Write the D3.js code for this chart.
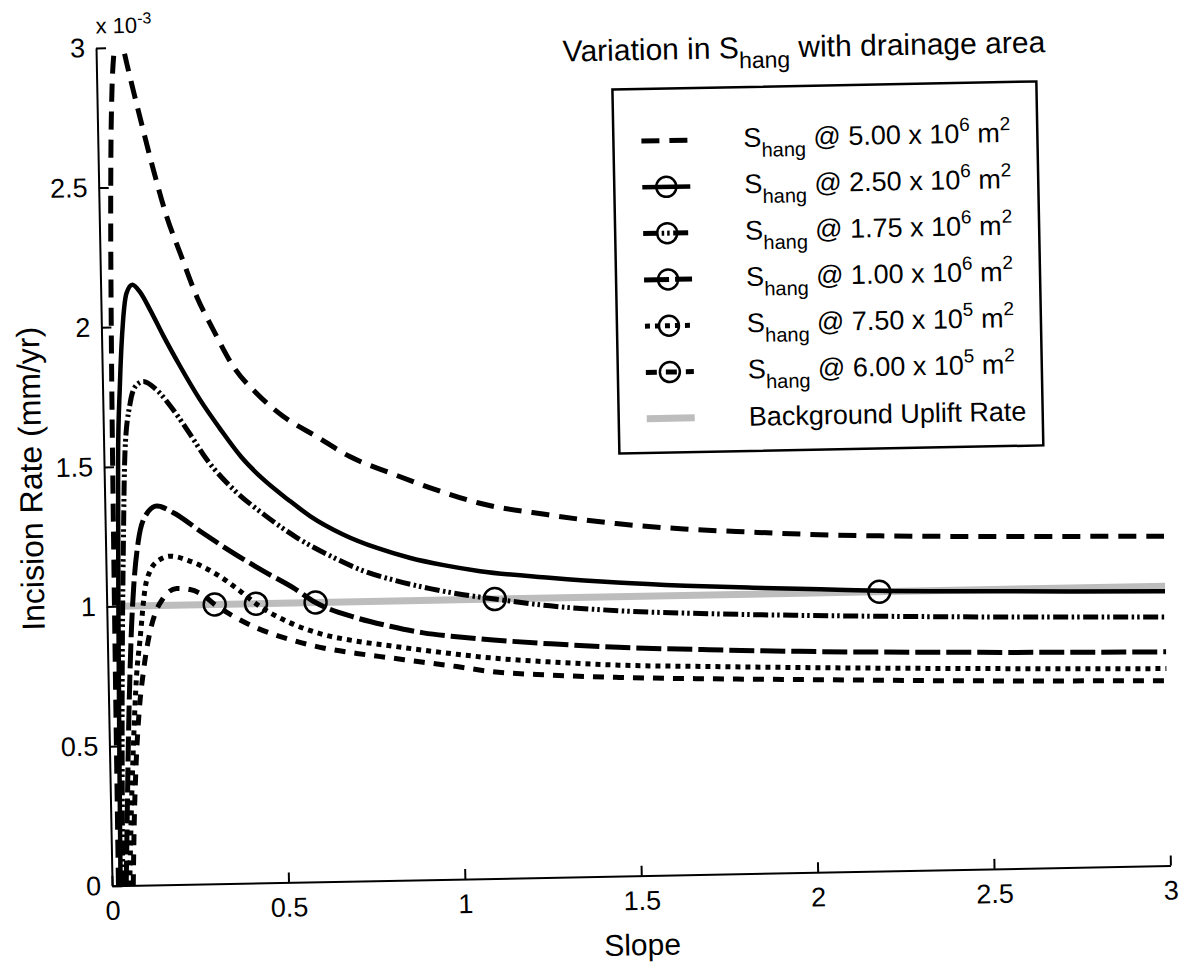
<!DOCTYPE html>
<html>
<head>
<meta charset="utf-8">
<script src="https://cdnjs.cloudflare.com/ajax/libs/d3/7.8.5/d3.min.js"></script>
<style>
    body { margin: 0; background: #fff; }
    svg text { font-family: "Liberation Sans", Arial, Helvetica, sans-serif; fill: #000; white-space: pre; }
</style>
</head>
<body>
<svg id="chart" width="1188" height="971"></svg>
<script>

// Tick values for both axes
var slopeTicks = [0, 0.5, 1, 1.5, 2, 2.5, 3];
var rateTicks = [0, 0.5, 1, 1.5, 2, 2.5, 3];

// Drainage area labels for the legend (mantissa and power of ten)
var areaMantissa = ["5.00", "2.50", "1.75", "1.00", "7.50", "6.00"];
var areaPower = ["6", "6", "6", "6", "5", "5"];

// Incision rate (x 10^-3 mm/yr) against slope
var rateArea500e4 = [[0.018, 0], [0.021, 0.8], [0.025, 1.6], [0.03, 2.2], [0.036, 2.6], [0.043, 2.85],
    [0.052, 3.0], [0.064, 3.09], [0.077, 3.0], [0.103, 2.847], [0.129, 2.704], [0.156, 2.56],
    [0.191, 2.392], [0.227, 2.261], [0.272, 2.103], [0.317, 1.983], [0.372, 1.85], [0.436, 1.753],
    [0.511, 1.668], [0.604, 1.594], [0.697, 1.52], [0.81, 1.459], [0.94, 1.395], [1.06, 1.345],
    [1.256, 1.298], [1.448, 1.262], [1.64, 1.238], [1.832, 1.222], [2.024, 1.208], [2.216, 1.199],
    [2.472, 1.191], [2.728, 1.185], [3.0, 1.179]];

var rateArea250e4 = [[0.024, 0], [0.028, 0.5], [0.033, 1.0], [0.04, 1.52], [0.049, 1.785], [0.062, 2.025],
    [0.073, 2.12], [0.09, 2.15], [0.111, 2.124], [0.139, 2.059], [0.176, 1.963], [0.221, 1.855],
    [0.275, 1.735], [0.33, 1.63], [0.39, 1.525], [0.45, 1.445], [0.52, 1.37], [0.581, 1.31],
    [0.675, 1.241], [0.769, 1.191], [0.863, 1.153], [0.957, 1.125], [1.06, 1.101], [1.256, 1.073],
    [1.448, 1.051], [1.64, 1.035], [1.832, 1.023], [2.024, 1.013], [2.19, 1.003], [2.472, 0.995],
    [2.728, 0.988], [3.0, 0.982]];

var rateArea175e4 = [[0.03, 0], [0.036, 0.5], [0.043, 0.9], [0.05, 1.2], [0.06, 1.55], [0.077, 1.724],
    [0.096, 1.79], [0.116, 1.803], [0.153, 1.772], [0.199, 1.7], [0.245, 1.612], [0.291, 1.52],
    [0.366, 1.41], [0.449, 1.32], [0.542, 1.234], [0.636, 1.166], [0.729, 1.11], [0.823, 1.072],
    [0.917, 1.042], [1.011, 1.018], [1.1, 1.0], [1.256, 0.972], [1.448, 0.95], [1.704, 0.933],
    [1.96, 0.921], [2.47, 0.903], [3.0, 0.89]];

var rateArea100e4 = [[0.04, 0], [0.048, 0.3], [0.055, 0.55], [0.062, 0.755], [0.069, 0.922], [0.078, 1.077],
    [0.093, 1.232], [0.114, 1.321], [0.147, 1.356], [0.194, 1.331], [0.269, 1.263], [0.353, 1.19],
    [0.446, 1.116], [0.53, 1.054], [0.592, 1.0], [0.708, 0.942], [0.802, 0.91], [0.896, 0.884],
    [0.99, 0.868], [1.085, 0.855], [1.256, 0.836], [1.448, 0.819], [1.704, 0.804], [1.96, 0.792],
    [2.47, 0.776], [3.0, 0.765]];

var rateArea750e3 = [[0.05, 0], [0.058, 0.25], [0.068, 0.5], [0.081, 0.754], [0.092, 0.874], [0.11, 1.065],
    [0.125, 1.125], [0.154, 1.165], [0.182, 1.176], [0.238, 1.157], [0.314, 1.107], [0.38, 1.045],
    [0.423, 1.0], [0.519, 0.929], [0.612, 0.885], [0.706, 0.859], [0.801, 0.84], [0.895, 0.822],
    [0.99, 0.805], [1.084, 0.79], [1.256, 0.771], [1.448, 0.755], [1.704, 0.744], [1.96, 0.734],
    [2.47, 0.718], [3.0, 0.705]];

var rateArea600e3 = [[0.06, 0], [0.066, 0.22], [0.074, 0.42], [0.086, 0.62], [0.101, 0.77], [0.12, 0.9],
    [0.136, 0.969], [0.161, 1.027], [0.199, 1.06], [0.237, 1.055], [0.274, 1.034], [0.306, 1.0],
    [0.358, 0.957], [0.424, 0.913], [0.518, 0.869], [0.611, 0.837], [0.706, 0.815], [0.8, 0.797],
    [0.894, 0.779], [0.989, 0.761], [1.08, 0.742], [1.256, 0.724], [1.448, 0.711], [1.704, 0.7],
    [1.96, 0.691], [2.47, 0.674], [3.0, 0.662]];

// Background uplift rate and the S_hang slopes where each curve meets it
var upliftRate = 1.0;
var upliftSlopes = [0.03, 3.0];
var shangSlopes = [2.19, 1.1, 0.592, 0.423, 0.306];

function drawChart() {

    var left = 104.5, right = 1163,
        top = 38.5, bottom = 876.5;

    var x = d3.scaleLinear().domain([0, 3]).range([left, right]);
    var y = d3.scaleLinear().domain([0, 3]).range([bottom, top]);

    // Line styles, one per drainage area
    var series = [
        {data: rateArea500e4, dash: "18,10", width: 5, marker: false},
        {data: rateArea250e4, dash: null, width: 4.5, marker: true},
        {data: rateArea175e4, dash: "15,3.5,2.5,3,2.5,3.5", width: 5, marker: true},
        {data: rateArea100e4, dash: "25,6", width: 5, marker: true},
        {data: rateArea750e3, dash: "5,5", width: 5, marker: true},
        {data: rateArea600e3, dash: "11,9", width: 5, marker: true}
    ];

    var svg = d3.select("#chart");

    // The scanned figure sits slightly rotated
    var root = svg.append("g").attr("transform", "rotate(-1.1 594 485)");

    svg.append("defs").append("clipPath")
        .attr("id", "plot-clip")
        .append("rect")
        .attr("x", left)
        .attr("y", top)
        .attr("width", right - left)
        .attr("height", bottom - top);

    var plot = root.append("g").attr("clip-path", "url(#plot-clip)");

    var line = d3.line()
        .x(function (d) { return x(d[0]); })
        .y(function (d) { return y(d[1]); })
        .curve(d3.curveMonotoneX);

    // Grey uplift line goes underneath
    plot.append("path")
        .attr("d", line(upliftSlopes.map(function (s) { return [s, upliftRate]; })))
        .attr("fill", "none")
        .attr("stroke", "#bdbdbd")
        .attr("stroke-width", 7);

    series.forEach(function (s) {
        plot.append("path")
            .attr("d", line(s.data))
            .attr("fill", "none")
            .attr("stroke", "#000")
            .attr("stroke-width", s.width)
            .attr("stroke-dasharray", s.dash);
    });

    // Circles at the hanging slope of each curve
    plot.selectAll(".shang")
        .data(shangSlopes)
        .enter().append("circle")
        .attr("class", "shang")
        .attr("cx", function (d) { return x(d); })
        .attr("cy", y(upliftRate))
        .attr("r", 11)
        .attr("fill", "none")
        .attr("stroke", "#000")
        .attr("stroke-width", 2.5);

    // Axes, ticks pointing inward
    var xAxis = root.append("g")
        .attr("transform", "translate(0," + bottom + ")")
        .call(d3.axisBottom(x).tickValues(slopeTicks).tickSizeInner(-10).tickSizeOuter(0)
            .tickPadding(15).tickFormat(function (d) { return String(d); }));

    var yAxis = root.append("g")
        .attr("transform", "translate(" + left + ",0)")
        .call(d3.axisLeft(y).tickValues(rateTicks).tickSizeInner(-10).tickSizeOuter(0)
            .tickPadding(11).tickFormat(function (d) { return String(d); }));

    [xAxis, yAxis].forEach(function (a) {
        a.attr("font-family", null).attr("font-size", 27);
        a.select(".domain").attr("stroke-width", 2);
        a.selectAll(".tick line").attr("stroke-width", 2);
    });

    // Exponent label above the y axis
    var expText = root.append("text")
        .attr("x", left)
        .attr("y", 24)
        .attr("font-size", 22);
    expText.append("tspan").text("x 10");
    expText.append("tspan").attr("font-size", 16).attr("dy", -9).text("-3");

    // Axis titles
    root.append("text")
        .attr("x", (left + right) / 2)
        .attr("y", 956)
        .attr("font-size", 30)
        .attr("text-anchor", "middle")
        .text("Slope");

    root.append("text")
        .attr("transform", "translate(42,468) rotate(-90)")
        .attr("font-size", 32)
        .attr("text-anchor", "middle")
        .text("Incision Rate (mm/yr)");

    // Chart title
    var title = root.append("text")
        .attr("x", 571)
        .attr("y", 61)
        .attr("font-size", 30);
    title.append("tspan").text("Variation in S");
    title.append("tspan").attr("font-size", 23).attr("dy", 10).text("hang");
    title.append("tspan").attr("dy", -10).text(" with drainage area");

    drawLegend(root, series);
}

function drawLegend(root, series) {
    var boxX = 620, boxY = 90, boxW = 424, boxH = 364;
    var sampleX = 648, sampleW = 48, textX = 750;
    var rowY = 142, rowStep = 46.3;

    var legend = root.append("g");

    legend.append("rect")
        .attr("x", boxX)
        .attr("y", boxY)
        .attr("width", boxW)
        .attr("height", boxH)
        .attr("fill", "#fff")
        .attr("stroke", "#000")
        .attr("stroke-width", 2.5);

    series.forEach(function (s, i) {
        var cy = rowY + i * rowStep;

        legend.append("line")
            .attr("x1", sampleX)
            .attr("x2", sampleX + sampleW)
            .attr("y1", cy)
            .attr("y2", cy)
            .attr("stroke", "#000")
            .attr("stroke-width", s.width)
            .attr("stroke-dasharray", s.dash);

        if (s.marker) {
            legend.append("circle")
                .attr("cx", sampleX + sampleW / 2)
                .attr("cy", cy)
                .attr("r", 10)
                .attr("fill", "none")
                .attr("stroke", "#000")
                .attr("stroke-width", 2.5);
        }

        var t = legend.append("text")
            .attr("x", textX)
            .attr("y", cy + 8)
            .attr("font-size", 27);
        t.append("tspan").text("S");
        t.append("tspan").attr("font-size", 20).attr("dy", 10).text("hang");
        t.append("tspan").attr("dy", -10).text(" @ " + areaMantissa[i] + " x 10");
        t.append("tspan").attr("font-size", 19).attr("dy", -12).text(areaPower[i]);
        t.append("tspan").attr("dy", 12).text(" m");
        t.append("tspan").attr("font-size", 19).attr("dy", -12).text("2");
    });

    // Background uplift entry
    var gy = rowY + series.length * rowStep;
    legend.append("line")
        .attr("x1", sampleX)
        .attr("x2", sampleX + sampleW)
        .attr("y1", gy)
        .attr("y2", gy)
        .attr("stroke", "#bdbdbd")
        .attr("stroke-width", 7);

    legend.append("text")
        .attr("x", textX)
        .attr("y", gy + 9)
        .attr("font-size", 27)
        .text("Background Uplift Rate");
}

drawChart();
</script>
</body>
</html>
